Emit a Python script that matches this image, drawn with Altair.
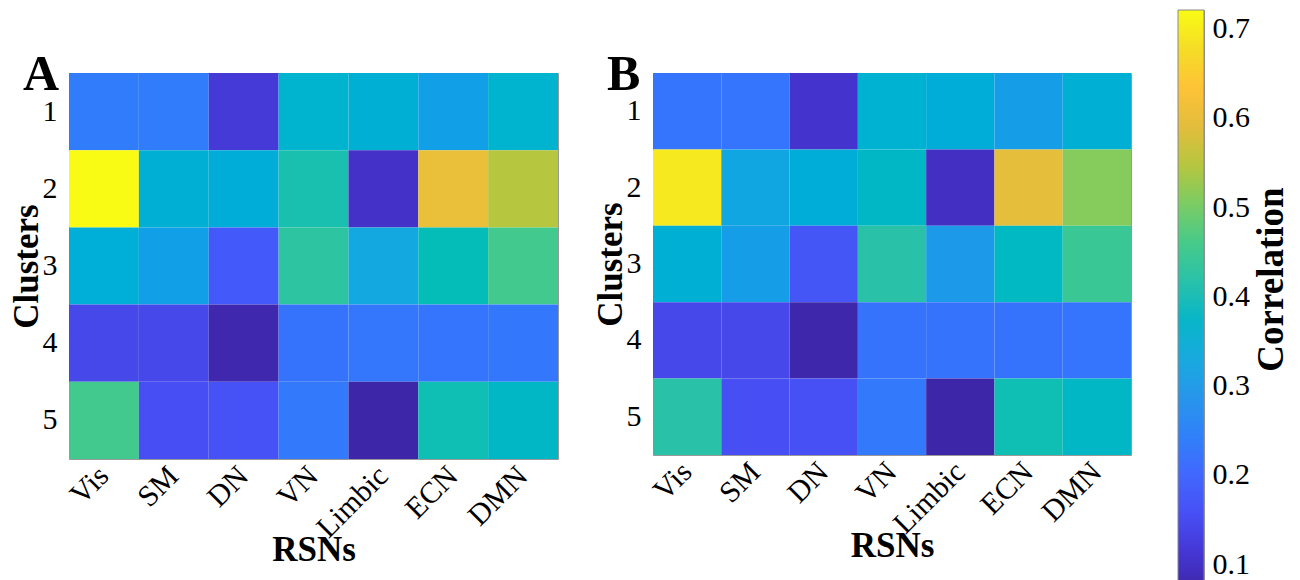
import altair as alt
import pandas as pd

rsns = ["Vis", "SM", "DN", "VN", "Limbic", "ECN", "DMN"]
clusters = [1, 2, 3, 4, 5]

corr_a = [
    [0.235, 0.235, 0.117, 0.363, 0.352, 0.306, 0.363],
    [0.721, 0.352, 0.342, 0.409, 0.102, 0.603, 0.547],
    [0.347, 0.306, 0.173, 0.429, 0.327, 0.399, 0.455],
    [0.143, 0.143, 0.076, 0.219, 0.225, 0.222, 0.227],
    [0.455, 0.155, 0.161, 0.230, 0.071, 0.404, 0.378],
]
corr_b = [
    [0.222, 0.222, 0.107, 0.358, 0.342, 0.301, 0.352],
    [0.695, 0.322, 0.342, 0.378, 0.097, 0.595, 0.511],
    [0.352, 0.301, 0.168, 0.419, 0.296, 0.383, 0.445],
    [0.143, 0.143, 0.073, 0.219, 0.219, 0.219, 0.222],
    [0.419, 0.155, 0.158, 0.230, 0.071, 0.404, 0.378],
]

cbar_ticks = [0.1, 0.2, 0.3, 0.4, 0.5, 0.6, 0.7]
cbar_domain = [0.071, 0.721]

# MATLAB parula colormap stops
parula = [
    "#3e26a8", "#4537d5", "#4750f5", "#4168fe", "#3081f9", "#2796eb",
    "#18aade", "#08b6c8", "#29c2a9", "#48ca89", "#7ccc63", "#b7c63f",
    "#e3bd3c", "#fec337", "#f5dd26", "#f9fb14",
]

FONT = "Liberation Serif"


def to_df(mat):
    rows = []
    for i, c in enumerate(clusters):
        for j, r in enumerate(rsns):
            rows.append({"Cluster": c, "RSN": r, "Correlation": mat[i][j]})
    return pd.DataFrame(rows)


def heat(mat, letter, w, h):
    rects = alt.Chart(to_df(mat)).mark_rect().encode(
        x=alt.X("RSN:N", sort=rsns, title="RSNs",
                axis=alt.Axis(labelAngle=-45, labelAlign="right", labelBaseline="middle",
                              labelPadding=12, ticks=False, domain=False,
                              titleY=101, titleBaseline="alphabetic")),
        y=alt.Y("Cluster:O", sort=clusters, title="Clusters",
                axis=alt.Axis(labelPadding=12, ticks=False, domain=False, labelAngle=0,
                              titleX=-32, titleBaseline="alphabetic", titleAngle=270)),
        color=alt.Color("Correlation:Q",
                        scale=alt.Scale(domain=cbar_domain, range=parula, clamp=True),
                        legend=None),
    )
    tag = alt.Chart(pd.DataFrame({"panel": [letter]})).mark_text(
        align="left", baseline="alphabetic", font=FONT, fontSize=50,
        fontWeight="bold", color="black",
    ).encode(text="panel:N", x=alt.value(-46), y=alt.value(17))
    return alt.layer(rects, tag).properties(width=w, height=h)


cbar_df = pd.DataFrame({"lo": [cbar_domain[0]], "hi": [cbar_domain[1]]})
n = len(parula)
gradient = alt.LinearGradient(
    gradient="linear",
    stops=[alt.GradientStop(offset=i / (n - 1), color=c) for i, c in enumerate(parula)],
    x1=0, x2=0, y1=1, y2=0,
)
colorbar = alt.Chart(cbar_df).mark_rect(fill=gradient, stroke="#888888", strokeWidth=1).encode(
    y=alt.Y("lo:Q", scale=alt.Scale(domain=cbar_domain, nice=False, zero=False),
            title="Correlation",
            axis=alt.Axis(orient="right", values=cbar_ticks, format=".1f",
                          ticks=False, domain=False, grid=False, labelPadding=8,
                          titleAngle=270, titleX=78, titleY=269, titleFontSize=37,
                          titleBaseline="alphabetic", titleAlign="center")),
    y2="hi:Q",
).properties(width=26, height=580)

# empty strip that holds the panels below the top of the colour bar
spacer = alt.Chart(pd.DataFrame({"t": [""]})).mark_text().encode(
    text="t:N"
).properties(width=1, height=1, view=alt.ViewBackground(stroke="transparent"))

panels = alt.hconcat(
    heat(corr_a, "A", 489, 386),
    heat(corr_b, "B", 478, 382),
    spacing=33,
)

left = alt.vconcat(spacer, panels, spacing=33)

chart = alt.hconcat(
    left, colorbar, spacing=45,
).properties(
    padding={"left": 8, "top": 4, "right": 5, "bottom": 5},
).configure_axis(
    labelFont=FONT, labelFontSize=30, labelColor="black",
    titleFont=FONT, titleFontSize=35, titleFontWeight="bold", titleColor="black",
    grid=False,
).configure_view(
    stroke="#999999", strokeWidth=1,
)

chart.save("out.html", embed_options={"renderer": "svg", "actions": False})
